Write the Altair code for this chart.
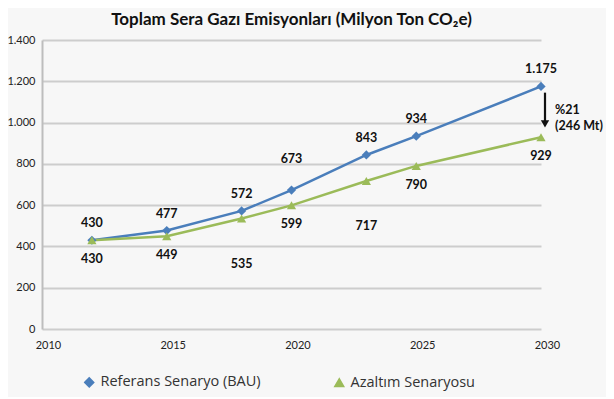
import altair as alt
import pandas as pd

# ---- data ----
years = [2012, 2015, 2018, 2020, 2023, 2025, 2030]
bau = [430, 477, 572, 673, 843, 934, 1175]
reduction = [430, 449, 535, 599, 717, 790, 929]
bau_labels = ["430", "477", "572", "673", "843", "934", "1.175"]
red_labels = ["430", "449", "535", "599", "717", "790", "929"]
series = ["Referans Senaryo (BAU)", "Azaltım Senaryosu"]
colors = ["#4a7ebb", "#9bbb59"]
x_ticks = [2010, 2015, 2020, 2025, 2030]
y_ticks = [0, 200, 400, 600, 800, 1000, 1200, 1400]
gap_text = ["%21", "(246 Mt)"]
gap_from, gap_to = 1175, 929

rows = []
for i, yr in enumerate(years):
    rows.append(dict(year=yr, value=bau[i], label=bau_labels[i], series=series[0]))
    rows.append(dict(year=yr, value=reduction[i], label=red_labels[i], series=series[1]))
df = pd.DataFrame(rows)

FONT = "Lato"

x_enc = alt.X("year:Q", scale=alt.Scale(domain=[2010, 2030], nice=False),
              axis=alt.Axis(values=x_ticks, format="d", title=None, grid=False,
                            ticks=False, domain=False, labelPadding=10,
                            labelFlush=False, labelOffset=6, labelFont=FONT,
                            labelFontSize=11, labelColor="#222"))
y_enc = alt.Y("value:Q", scale=alt.Scale(domain=[0, 1400], nice=False),
              axis=alt.Axis(values=y_ticks, title=None, ticks=False,
                            labelExpr="replace(format(datum.value, ',d'), ',', '.')",
                            gridColor="#cdcdcd", gridWidth=2, domainColor="#bdbdbd",
                            domainWidth=2, labelPadding=7, labelFont=FONT,
                            labelFontSize=11, labelColor="#222"))

leg = alt.Legend(title=None, orient="none", legendX=40, legendY=335,
                 direction="horizontal", columns=2, columnPadding=70,
                 labelFont="Open Sans", labelFontSize=14.5, labelColor="#333",
                 symbolSize=80, labelLimit=300)
color_enc = alt.Color("series:N", scale=alt.Scale(domain=series, range=colors),
                      legend=leg)
shape_enc = alt.Shape("series:N", scale=alt.Scale(domain=series,
                                                   range=["diamond", "triangle-up"]),
                      legend=leg)

base = alt.Chart(df)
lines = base.mark_line(strokeWidth=2.5).encode(x=x_enc, y=y_enc, color=color_enc,
                                               detail="series:N")
points = base.mark_point(filled=True, size=85, opacity=1).encode(
    x="year:Q", y="value:Q", color=color_enc, shape=shape_enc)

txt = dict(fontWeight="bold", font=FONT, fontSize=12.5, color="#111")
bau_df = df[df.series == series[0]]
red_df = df[df.series == series[1]]
raised = ["673"]
lowered = ["535", "717"]

t1 = alt.Chart(bau_df[~bau_df.label.isin(raised)]).mark_text(dy=-17, **txt).encode(
    x="year:Q", y="value:Q", text="label:N")
t2 = alt.Chart(bau_df[bau_df.label.isin(raised)]).mark_text(dy=-31, **txt).encode(
    x="year:Q", y="value:Q", text="label:N")
t3 = alt.Chart(red_df[~red_df.label.isin(lowered)]).mark_text(dy=19, **txt).encode(
    x="year:Q", y="value:Q", text="label:N")
t4 = alt.Chart(red_df[red_df.label.isin(lowered)]).mark_text(dy=45, **txt).encode(
    x="year:Q", y="value:Q", text="label:N")

arrow_df = pd.DataFrame({"year": [2030], "y1": [gap_from - 30], "y2": [gap_to + 65]})
arrow_rule = alt.Chart(arrow_df).mark_rule(color="#111", strokeWidth=2.2, xOffset=4).encode(
    x="year:Q", y="y1:Q", y2="y2:Q")
arrow_head = alt.Chart(arrow_df).mark_point(shape="triangle-down", filled=True,
                                            color="#111", size=70, opacity=1,
                                            xOffset=4).encode(x="year:Q", y="y2:Q")
gap_df = pd.DataFrame({"year": [2030, 2030], "value": [1060, 985], "t": gap_text})
gap_lbl = alt.Chart(gap_df).mark_text(align="left", dx=14, **txt).encode(
    x="year:Q", y="value:Q", text="t:N")

chart = alt.layer(lines, points, t1, t2, t3, t4, arrow_rule, arrow_head, gap_lbl).properties(
    width=499, height=289,
    padding={"left": 34, "top": 32, "right": 65, "bottom": 68},
    autosize="none",
    background="#f7f7f7",
    title=alt.TitleParams("Toplam Sera Gazı Emisyonları (Milyon Ton CO₂e)",
                          font=FONT, fontSize=17, fontWeight="bold",
                          color="#111", offset=5, anchor="middle"),
).configure_view(stroke=None)

chart.save("out.html", embed_options={"renderer": "svg", "actions": False})
